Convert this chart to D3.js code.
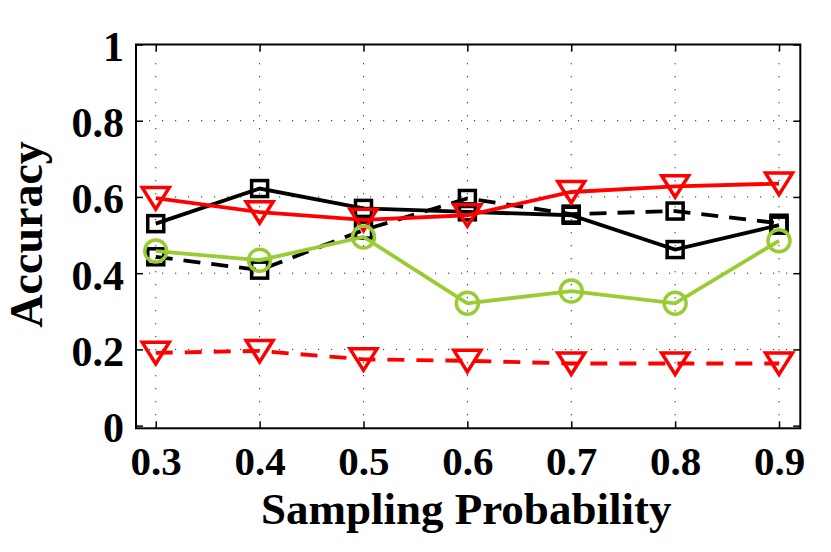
<!DOCTYPE html>
<html>
<head>
<meta charset="utf-8">
<script src="https://cdn.jsdelivr.net/npm/d3@7"></script>
<style>
  html, body { margin: 0; padding: 0; background: #fff; }
  svg { display: block; }
  text { font-family: "Liberation Serif", "Times New Roman", serif; font-weight: bold; fill: #000; }
</style>
</head>
<body>
<svg id="chart" width="831" height="552"></svg>
<script>
// ---------- data ----------
const xValues = [0.3, 0.4, 0.5, 0.6, 0.7, 0.8, 0.9];
const xTickLabels = ["0.3", "0.4", "0.5", "0.6", "0.7", "0.8", "0.9"];
const yTickValues = [0, 0.2, 0.4, 0.6, 0.8, 1];
const yTickLabels = ["0", "0.2", "0.4", "0.6", "0.8", "1"];

const blackSolid  = [0.530, 0.622, 0.570, 0.561, 0.552, 0.462, 0.526];
const blackDashed = [0.443, 0.408, 0.513, 0.596, 0.555, 0.563, 0.531];
const redSolid    = [0.597, 0.560, 0.540, 0.552, 0.613, 0.628, 0.635];
const greenSolid  = [0.458, 0.434, 0.495, 0.321, 0.353, 0.321, 0.485];
const redDashed   = [0.191, 0.196, 0.174, 0.170, 0.163, 0.163, 0.163];

const xLabel = "Sampling Probability";
const yLabel = "Accuracy";

// ---------- layout ----------
const svg = d3.select("#chart");
const L = 136, R = 800.3, T = 44.5, B = 428.3;

const x = d3.scaleLinear().domain([0.281, 0.9205]).range([L, R]);
const y = d3.scaleLinear().domain([-0.007, 1]).range([B, T]);

// grid
const grid = svg.append("g").attr("stroke", "#222").attr("stroke-width", 1).attr("stroke-dasharray", "1.2,11.8");
grid.selectAll("line.vx").data(xValues).join("line")
  .attr("x1", d => x(d)).attr("x2", d => x(d))
  .attr("y1", B).attr("y2", T);
grid.selectAll("line.hy").data(yTickValues.filter(v => v > 0 && v < 1)).join("line")
  .attr("x1", L).attr("x2", R)
  .attr("y1", d => y(d)).attr("y2", d => y(d));

// axes (inward ticks)
const tk = 7;
const axB = svg.append("g").attr("transform", `translate(0,${B})`)
  .call(d3.axisBottom(x).tickValues(xValues).tickFormat((d, i) => xTickLabels[i]).tickSizeInner(-tk).tickSizeOuter(0).tickPadding(0));
const axT = svg.append("g").attr("transform", `translate(0,${T})`)
  .call(d3.axisTop(x).tickValues(xValues).tickFormat("").tickSizeInner(-tk).tickSizeOuter(0));
const axL = svg.append("g").attr("transform", `translate(${L},0)`)
  .call(d3.axisLeft(y).tickValues(yTickValues).tickFormat((d, i) => yTickLabels[i]).tickSizeInner(-tk).tickSizeOuter(0).tickPadding(0));
const axRt = svg.append("g").attr("transform", `translate(${R},0)`)
  .call(d3.axisRight(y).tickValues(yTickValues).tickFormat("").tickSizeInner(-tk).tickSizeOuter(0));

[axB, axT, axL, axRt].forEach(a => {
  a.select(".domain").remove();
  a.selectAll(".tick line").attr("stroke", "#000").attr("stroke-width", 1.5);
});
axB.selectAll(".tick text")
  .attr("font-size", 41).attr("dy", null).attr("y", 47)
  .attr("font-family", "'Liberation Serif', 'Times New Roman', serif").attr("font-weight", "bold");
axL.selectAll(".tick text")
  .attr("font-size", 42).attr("dy", null).attr("x", -12).attr("y", 16)
  .attr("font-family", "'Liberation Serif', 'Times New Roman', serif").attr("font-weight", "bold");

// frame
svg.append("rect").attr("x", L).attr("y", T).attr("width", R - L).attr("height", B - T)
  .attr("fill", "none").attr("stroke", "#000").attr("stroke-width", 2);

// ---------- series ----------
const series = [
  { values: blackDashed, color: "#000000", dash: "17,11", marker: "square" },
  { values: blackSolid,  color: "#000000", dash: null,    marker: "square" },
  { values: redSolid,    color: "#ff0000", dash: null,    marker: "tri" },
  { values: greenSolid,  color: "#99cc33", dash: null,    marker: "circle" },
  { values: redDashed,   color: "#ff0000", dash: "17,12", marker: "tri" }
];

const line = d3.line().x((d, i) => x(xValues[i])).y(d => y(d));

series.forEach(s => {
  const g = svg.append("g");
  g.append("path").attr("d", line(s.values))
    .attr("fill", "none").attr("stroke", s.color).attr("stroke-width", 3.8)
    .attr("stroke-dasharray", s.dash);
  const pts = g.selectAll("g.m").data(s.values).join("g")
    .attr("transform", (d, i) => `translate(${x(xValues[i])},${y(d)})`);
  if (s.marker === "square") {
    pts.append("rect").attr("x", -8).attr("y", -8).attr("width", 16).attr("height", 16)
      .attr("fill", "none").attr("stroke", s.color).attr("stroke-width", 3.5);
  } else if (s.marker === "circle") {
    pts.append("circle").attr("r", 11)
      .attr("fill", "none").attr("stroke", s.color).attr("stroke-width", 3.5);
  } else {
    pts.append("path").attr("d", "M-13.5,-10.5L13.5,-10.5L0,11Z")
      .attr("fill", "none").attr("stroke", s.color).attr("stroke-width", 3.5)
      .attr("stroke-linejoin", "miter");
  }
});

// ---------- labels ----------
svg.append("text").attr("x", (L + R) / 2 - 2).attr("y", 524)
  .attr("text-anchor", "middle").attr("font-size", 45).text(xLabel);
svg.append("text").attr("transform", `translate(42,${(T + B) / 2 - 2}) rotate(-90)`)
  .attr("text-anchor", "middle").attr("font-size", 46).text(yLabel);
</script>
</body>
</html>
